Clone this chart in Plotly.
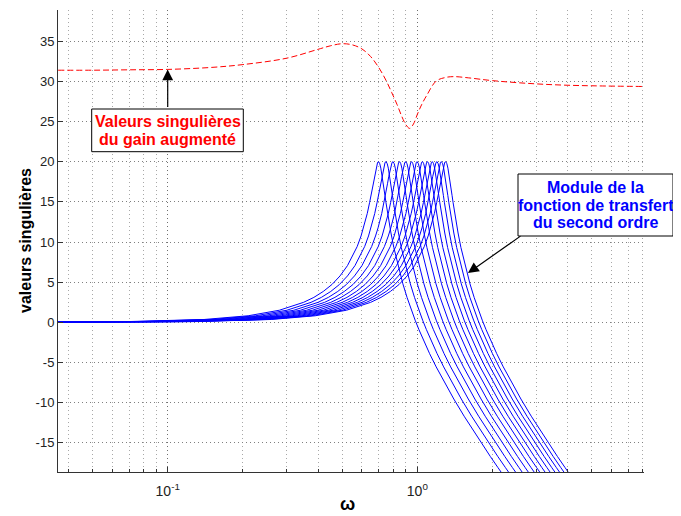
import plotly.graph_objects as go

# ---------------- data ----------------
# normalised second-order magnitude profile (omega/omega_n -> dB)
shape_ratio = [0.02, 0.05, 0.1, 0.2, 0.3, 0.4, 0.5, 0.55, 0.6, 0.65, 0.7, 0.75, 0.8, 0.82,
               0.85, 0.87, 0.9, 0.92, 0.93, 0.94, 0.95, 0.96, 0.97, 0.98, 0.99, 1.0, 1.01,
               1.02, 1.03, 1.04, 1.05, 1.06, 1.07, 1.08, 1.1, 1.12, 1.15, 1.2, 1.25, 1.3,
               1.35, 1.4, 1.45, 1.5, 1.6, 1.7, 1.8, 2.0, 2.2, 2.5, 2.8, 3.0, 3.3]
shape_db = [0.00, 0.02, 0.09, 0.35, 0.81, 1.50, 2.48, 3.10, 3.84, 4.71, 5.77, 7.06, 8.66, 9.43,
            10.75, 11.76, 13.55, 14.94, 15.70, 16.50, 17.32, 18.14, 18.89, 19.52, 19.92, 20.00, 19.75,
            19.20, 18.44, 17.58, 16.67, 15.77, 14.89, 14.05, 12.50, 11.12, 9.31, 6.82, 4.79, 3.07,
            1.58, 0.26, -0.92, -2.00, -3.91, -5.56, -7.03, -9.56, -11.70, -14.41, -16.71, -18.07, -19.91]
# natural frequencies of the family of blue curves
natural_freqs = [0.70, 0.75, 0.80, 0.85, 0.90, 0.95, 1.00, 1.05, 1.10, 1.15, 1.20, 1.25, 1.30]

# red dashed curve: singular values of the augmented gain
gain_w = [0.0364, 0.05, 0.07, 0.1, 0.15, 0.2, 0.3, 0.4, 0.45, 0.5, 0.55, 0.6, 0.65, 0.7,
          0.75, 0.79, 0.83, 0.865, 0.9, 0.932, 0.965, 1.0, 1.04, 1.09, 1.19, 1.3, 1.4,
          1.6, 2.0, 2.8, 3.8, 5.2, 8.1]
gain_sv = [31.4, 31.4, 31.45, 31.5, 31.75, 32.1, 32.9, 34.0, 34.45, 34.7, 34.55, 34.05, 33.1, 31.75,
           30.1, 28.6, 27.1, 25.7, 24.6, 24.15, 24.7, 25.9, 27.1, 28.25, 30.05, 30.5, 30.6,
           30.45, 30.1, 29.75, 29.55, 29.45, 29.37]

x_major_ticks = [0.1, 1]
x_major_labels = ["10<sup>-1</sup>", "10<sup>0</sup>"]
x_minor_ticks = [0.04, 0.05, 0.06, 0.07, 0.08, 0.09,
                 0.2, 0.3, 0.4, 0.5, 0.6, 0.7, 0.8, 0.9,
                 2, 3, 4, 5, 6, 7, 8]
y_ticks = [-15, -10, -5, 0, 5, 10, 15, 20, 25, 30, 35]

red_label = ["Valeurs singulières", "du gain augmenté"]
blue_label = ["Module de la", "fonction de transfert", "du second ordre"]

# ---------------- figure ----------------
FONT = "Liberation Sans, Arial, Helvetica, sans-serif"
OFF = 8                      # page body margin
W, H = 681 - OFF, 516 - OFF
L, T = 58 - OFF, 10 - OFF    # plot area top-left in figure pixels
PW, PH = 586, 462
R, B = W - L - PW, H - T - PH


def pxx(px):
    """reference-screenshot x pixel -> paper fraction"""
    return (px - OFF - L) / PW


def pxy(py):
    """reference-screenshot y pixel -> paper fraction"""
    return (T + PH - (py - OFF)) / PH


fig = go.Figure()
for wn in natural_freqs:
    fig.add_trace(go.Scatter(
        x=[r * wn for r in shape_ratio], y=shape_db, mode="lines",
        line=dict(color="#0000ff", width=1), showlegend=False, hoverinfo="skip"))

fig.add_trace(go.Scatter(
    x=gain_w, y=gain_sv, mode="lines",
    line=dict(color="#ff0000", width=1, dash="6px,3px", shape="spline"),
    showlegend=False, hoverinfo="skip"))

grid_dash = "1px,3px"
fig.update_layout(
    width=W, height=H,
    margin=dict(l=L, r=R, t=T, b=B, pad=0),
    paper_bgcolor="white", plot_bgcolor="white",
    font=dict(family=FONT, size=13, color="#222222"),
    xaxis=dict(
        type="log", range=[-1.4395, 0.908],
        tickmode="array", tickvals=x_major_ticks, ticktext=x_major_labels,
        ticks="inside", ticklen=5, tickcolor="#333333", tickwidth=1,
        showline=True, linecolor="#333333", linewidth=1, mirror=False,
        showgrid=True, gridcolor="#707070", griddash=grid_dash, gridwidth=1,
        zeroline=False, ticklabelstandoff=6,
        tickfont=dict(size=14, color="#222222"),
        minor=dict(tickmode="array", tickvals=x_minor_ticks, ticks="inside",
                   ticklen=3, tickcolor="#333333", showgrid=True,
                   gridcolor="#a8a8a8", griddash=grid_dash, gridwidth=1),
    ),
    yaxis=dict(
        range=[-18.65, 38.9],
        tickmode="array", tickvals=y_ticks, ticktext=[str(v) for v in y_ticks],
        ticks="inside", ticklen=5, tickcolor="#333333",
        showline=True, linecolor="#333333", linewidth=1, mirror=False,
        showgrid=True, gridcolor="#808080", griddash=grid_dash, gridwidth=1,
        zeroline=False, tickfont=dict(size=13, color="#222222"),
    ),
)

annotations = []
shapes = []

# axis titles
annotations.append(dict(text="<b>ω</b>", xref="paper", yref="paper", x=pxx(347), y=pxy(504),
                        xanchor="center", yanchor="middle", showarrow=False,
                        font=dict(family=FONT, size=18, color="#000000")))
annotations.append(dict(text="<b>valeurs singulières</b>", xref="paper", yref="paper",
                        x=pxx(25), y=pxy(241), textangle=-90, xanchor="center", yanchor="middle",
                        showarrow=False, font=dict(family=FONT, size=16, color="#000000")))

# red annotation: box, text lines, arrow
shapes.append(dict(type="rect", xref="paper", yref="paper",
                   x0=pxx(91.7), x1=pxx(243.3), y0=pxy(151.7), y1=pxy(109),
                   line=dict(color="#000000", width=1), fillcolor="white", layer="above"))
for i, line in enumerate(red_label):
    annotations.append(dict(text="<b>%s</b>" % line, xref="paper", yref="paper",
                            x=pxx(167.5), y=pxy(121.6 + 17.5 * i), xanchor="center",
                            yanchor="middle", showarrow=False,
                            font=dict(family=FONT, size=16, color="#ff0000")))
annotations.append(dict(text="", x=-1.0, y=31.5, xref="x", yref="y", ax=0, ay=39,
                        showarrow=True, arrowhead=2, arrowsize=1.8, arrowwidth=1.2,
                        arrowcolor="#000000"))

# blue annotation: box, text lines, arrow
shapes.append(dict(type="rect", xref="paper", yref="paper",
                   x0=pxx(518), x1=pxx(673), y0=pxy(236), y1=pxy(174),
                   line=dict(color="#000000", width=1), fillcolor="white", layer="above"))
for i, line in enumerate(blue_label):
    annotations.append(dict(text="<b>%s</b>" % line, xref="paper", yref="paper",
                            x=pxx(595.5), y=pxy(187.5 + 17.5 * i), xanchor="center",
                            yanchor="middle", showarrow=False,
                            font=dict(family=FONT, size=16, color="#0000ff")))
annotations.append(dict(text="", x=0.2028, y=6.13, xref="x", yref="y", ax=54, ay=-38,
                        showarrow=True, arrowhead=2, arrowsize=1.8, arrowwidth=1.2,
                        arrowcolor="#000000"))

fig.update_layout(annotations=annotations, shapes=shapes)
fig.write_html("out.html")
